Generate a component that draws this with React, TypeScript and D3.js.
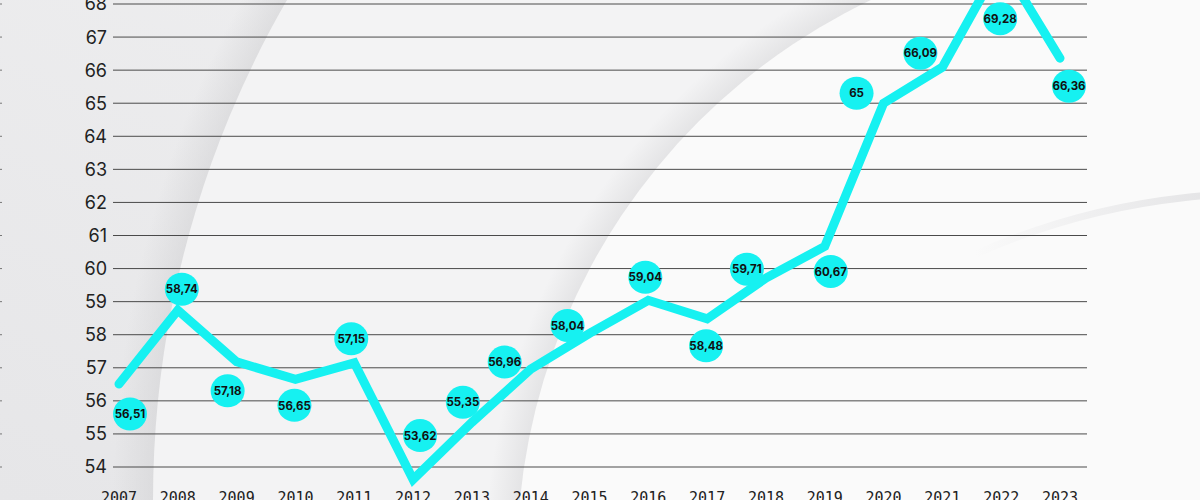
import React, { useEffect, useRef } from "react";
import * as d3 from "d3";

const years = ["2007", "2008", "2009", "2010", "2011", "2012", "2013", "2014", "2015", "2016", "2017", "2018", "2019", "2020", "2021", "2022", "2023"];
const values = [56.51, 58.74, 57.18, 56.65, 57.15, 53.62, 55.35, 56.96, 58.04, 59.04, 58.48, 59.71, 60.67, 65, 66.09, 69.28, 66.36];
const yTicks = [54, 55, 56, 57, 58, 59, 60, 61, 62, 63, 64, 65, 66, 67, 68];

// where each value bubble sits relative to its point (px)
const labelDx = [11, 4, -9, -1, -3, 7, -9, -26, -22, -3, -1, -19, 6, -27, -22, -1, 9];
const labelDy = [30, -21, 29, 26, -24, -44, -20, -7, -8, -23, 27, -9, 25, -10, -14, 57, 28];

const W = 1200;
const H = 500;
const CYAN = "#16f1f1";

const App: React.FC = () => {
  const svgRef = useRef<SVGSVGElement | null>(null);

  useEffect(() => {
    if (!svgRef.current) return;
    const svg = d3.select(svgRef.current);
    svg.selectAll("*").remove();

    const x = d3.scalePoint<string>().domain(years).range([119, 1060]);
    const y = d3.scaleLinear().domain([54, 68]).range([467, 4]);

    const defs = svg.append("defs");
    const bg = defs.append("linearGradient").attr("id", "bg")
      .attr("x1", "0%").attr("y1", "100%").attr("x2", "100%").attr("y2", "0%");
    bg.append("stop").attr("offset", "0%").attr("stop-color", "#e6e6e8");
    bg.append("stop").attr("offset", "100%").attr("stop-color", "#f1f1f2");

    // background swooshes: a soft shadow band just outside each circle, then a lighter fill
    const swoosh = (id: string, cx: number, cy: number, r: number, fill: string, band: number, shade: string, op: number) => {
      const g = defs.append("radialGradient").attr("id", id);
      g.append("stop").attr("offset", 0).attr("stop-color", shade).attr("stop-opacity", 0);
      g.append("stop").attr("offset", r / (r + band)).attr("stop-color", shade).attr("stop-opacity", op);
      g.append("stop").attr("offset", 1).attr("stop-color", shade).attr("stop-opacity", 0);
      svg.append("circle").attr("cx", cx).attr("cy", cy).attr("r", r + band).attr("fill", `url(#${id})`);
      svg.append("circle").attr("cx", cx).attr("cy", cy).attr("r", r).attr("fill", fill);
    };

    svg.append("rect").attr("width", W).attr("height", H).attr("fill", "url(#bg)");
    swoosh("sw1", 1153, 500, 1000, "#f3f3f4", 40, "#d4d4d6", 0.6);
    swoosh("sw2", 1137, 560, 620, "#fafafa", 32, "#d8d8da", 0.55);
    // faint right-hand fold
    const fold = defs.append("linearGradient").attr("id", "fold").attr("x1", "0%").attr("x2", "100%");
    fold.append("stop").attr("offset", "0%").attr("stop-color", "#e2e2e4").attr("stop-opacity", 0);
    fold.append("stop").attr("offset", "55%").attr("stop-color", "#e2e2e4").attr("stop-opacity", 0.9);
    const foldArc = d3.arc()({ innerRadius: 694, outerRadius: 701, startAngle: -0.42, endAngle: 0.2 } as any);
    svg.append("path")
      .attr("d", foldArc)
      .attr("transform", "translate(1260,891)")
      .attr("fill", "url(#fold)");

    // grid
    const grid = svg.append("g");
    grid.selectAll("line.grid")
      .data(yTicks)
      .enter()
      .append("line")
      .attr("x1", 113).attr("x2", 1087)
      .attr("y1", d => y(d)).attr("y2", d => y(d))
      .attr("stroke", "#4a4a4a").attr("stroke-width", 1);
    grid.selectAll("line.stub")
      .data(yTicks)
      .enter()
      .append("line")
      .attr("x1", 0).attr("x2", 2)
      .attr("y1", d => y(d)).attr("y2", d => y(d))
      .attr("stroke", "#777").attr("stroke-width", 1);

    svg.append("g").selectAll("text")
      .data(yTicks)
      .enter()
      .append("text")
      .attr("x", 107)
      .attr("y", d => y(d))
      .attr("dy", "0.36em")
      .attr("text-anchor", "end")
      .attr("font-family", "Inter, 'Noto Sans', sans-serif")
      .attr("font-size", 18)
      .attr("fill", "#222")
      .text(d => d);

    svg.append("g").selectAll("text")
      .data(years)
      .enter()
      .append("text")
      .attr("x", d => x(d) ?? 0)
      .attr("y", 503)
      .attr("text-anchor", "middle")
      .attr("font-family", "'DejaVu Sans Mono', monospace")
      .attr("font-size", 15)
      .attr("fill", "#222")
      .text(d => d);

    const line = d3.line<number>()
      .x((_, i) => x(years[i]) ?? 0)
      .y(d => y(d));

    svg.append("path")
      .datum(values)
      .attr("d", line)
      .attr("fill", "none")
      .attr("stroke", CYAN)
      .attr("stroke-width", 9)
      .attr("stroke-linejoin", "miter")
      .attr("stroke-linecap", "round");

    const labels = svg.append("g").selectAll("g")
      .data(values)
      .enter()
      .append("g")
      .attr("transform", (d, i) => `translate(${(x(years[i]) ?? 0) + labelDx[i]},${y(d) + labelDy[i]})`);

    labels.append("ellipse").attr("rx", 17).attr("ry", 16.5).attr("fill", CYAN);
    labels.append("text")
      .attr("text-anchor", "middle")
      .attr("dy", "0.36em")
      .attr("font-family", "Inter, 'Noto Sans', sans-serif")
      .attr("font-weight", 700)
      .attr("font-size", 11.5)
      .attr("fill", "#111")
      .text(d => String(d).replace(".", ","));
  }, []);

  return (
    <div style={{ position: "fixed", left: 0, top: 0, width: W, height: H, overflow: "hidden" }}>
      <svg ref={svgRef} width={W} height={H} style={{ display: "block" }}></svg>
    </div>
  );
};

export default App;
